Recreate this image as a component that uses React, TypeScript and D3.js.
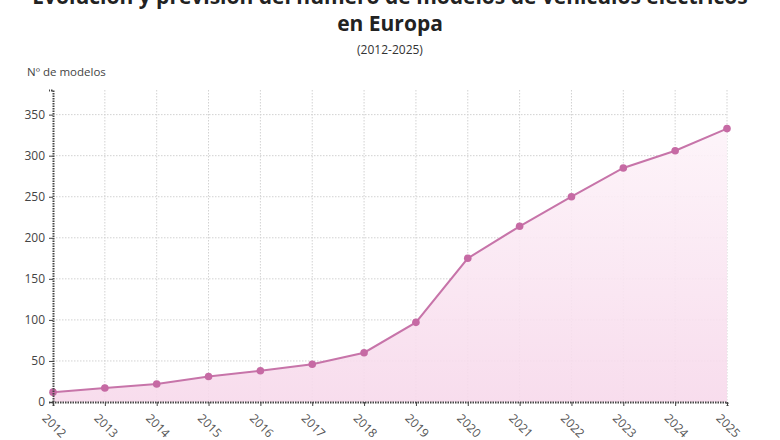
import React, { useRef, useEffect } from 'react';
import * as d3 from 'd3';

const years = [2012, 2013, 2014, 2015, 2016, 2017, 2018, 2019, 2020, 2021, 2022, 2023, 2024, 2025];
const models = [12, 17, 22, 31, 38, 46, 60, 97, 175, 214, 250, 285, 306, 333];
const yTicks = [0, 50, 100, 150, 200, 250, 300, 350];

export default function App() {
  const svgRef = useRef<SVGSVGElement>(null);

  useEffect(() => {
    const width = 780;
    const height = 440;
    const margin = { top: 90, right: 53, bottom: 38, left: 53 };
    const w = width - margin.left - margin.right;
    const h = height - margin.top - margin.bottom;
    const font = "'Open Sans', sans-serif";

    const svg = d3.select(svgRef.current);
    svg.selectAll('*').remove();

    // title (first line is cropped at the top, as in the source image)
    svg.append('text')
      .attr('x', width / 2).attr('y', 4)
      .attr('text-anchor', 'middle')
      .style('font', `bold 21px ${font}`).attr('fill', '#222')
      .text('Evolución y previsión del número de modelos de vehículos eléctricos');
    svg.append('text')
      .attr('x', width / 2).attr('y', 31)
      .attr('text-anchor', 'middle')
      .style('font', `bold 21px ${font}`).attr('fill', '#222')
      .text('en Europa');
    svg.append('text')
      .attr('x', width / 2).attr('y', 54)
      .attr('text-anchor', 'middle')
      .style('font', `12px ${font}`).attr('fill', '#333')
      .text('(2012-2025)');
    svg.append('text')
      .attr('x', 27).attr('y', 76)
      .style('font', `11.5px ${font}`).attr('fill', '#444')
      .text('Nº de modelos');

    const defs = svg.append('defs');
    const grad = defs.append('linearGradient')
      .attr('id', 'areaGrad').attr('x1', 0).attr('y1', 0).attr('x2', 0).attr('y2', 1);
    grad.append('stop').attr('offset', '0%').attr('stop-color', '#fdf3f9');
    grad.append('stop').attr('offset', '100%').attr('stop-color', '#f7d9eb');

    const g = svg.append('g').attr('transform', `translate(${margin.left},${margin.top})`);

    const x = d3.scaleLinear().domain([2012, 2025]).range([0, w]);
    const y = d3.scaleLinear().domain([0, 380]).range([h, 0]);

    // grid
    g.append('g').selectAll('line').data(yTicks.slice(1)).enter().append('line')
      .attr('x1', 0).attr('x2', w)
      .attr('y1', d => y(d)).attr('y2', d => y(d))
      .attr('stroke', '#d2d2d2').attr('stroke-dasharray', '1.5,1.5');
    g.append('g').selectAll('line').data(years.slice(1)).enter().append('line')
      .attr('x1', d => x(d)).attr('x2', d => x(d))
      .attr('y1', 0).attr('y2', h)
      .attr('stroke', '#d2d2d2').attr('stroke-dasharray', '1.5,1.5');

    const data = years.map((yr, i) => ({ yr, v: models[i] }));

    const area = d3.area<{ yr: number; v: number }>()
      .x(d => x(d.yr)).y0(h).y1(d => y(d.v));
    g.append('path').datum(data)
      .attr('d', area).attr('fill', 'url(#areaGrad)').attr('opacity', 0.9);

    const line = d3.line<{ yr: number; v: number }>()
      .x(d => x(d.yr)).y(d => y(d.v));
    g.append('path').datum(data)
      .attr('d', line).attr('fill', 'none')
      .attr('stroke', '#c774a9').attr('stroke-width', 2);

    g.selectAll('circle.pt').data(data).enter().append('circle')
      .attr('class', 'pt')
      .attr('cx', d => x(d.yr)).attr('cy', d => y(d.v))
      .attr('r', 3.8).attr('fill', '#c66aa4');

    // axes
    const yAxis = g.append('g')
      .call(d3.axisLeft(y).tickValues(yTicks).tickSize(4).tickPadding(4));
    yAxis.select('.domain').attr('stroke', '#444').attr('stroke-width', 2).attr('stroke-dasharray', '1.5,1');
    yAxis.selectAll('.tick line').attr('stroke', '#444');
    yAxis.selectAll('text').style('font', `12px ${font}`).attr('fill', '#444');

    const xAxis = g.append('g')
      .attr('transform', `translate(0,${h})`)
      .call(d3.axisBottom(x).tickValues(years).tickFormat(d3.format('d')).tickSize(4));
    xAxis.select('.domain').attr('stroke', '#444').attr('stroke-width', 2).attr('stroke-dasharray', '1.5,1');
    xAxis.selectAll('.tick line').attr('stroke', '#444');
    xAxis.selectAll('text')
      .style('font', `12px ${font}`).attr('fill', '#555')
      .attr('text-anchor', 'start')
      .attr('dy', '0.35em')
      .attr('transform', 'translate(-4,9) rotate(45)');
  }, []);

  return (
    <svg ref={svgRef} width={780} height={440}
      style={{ position: 'absolute', left: 0, top: 0, background: '#fff' }} />
  );
}
